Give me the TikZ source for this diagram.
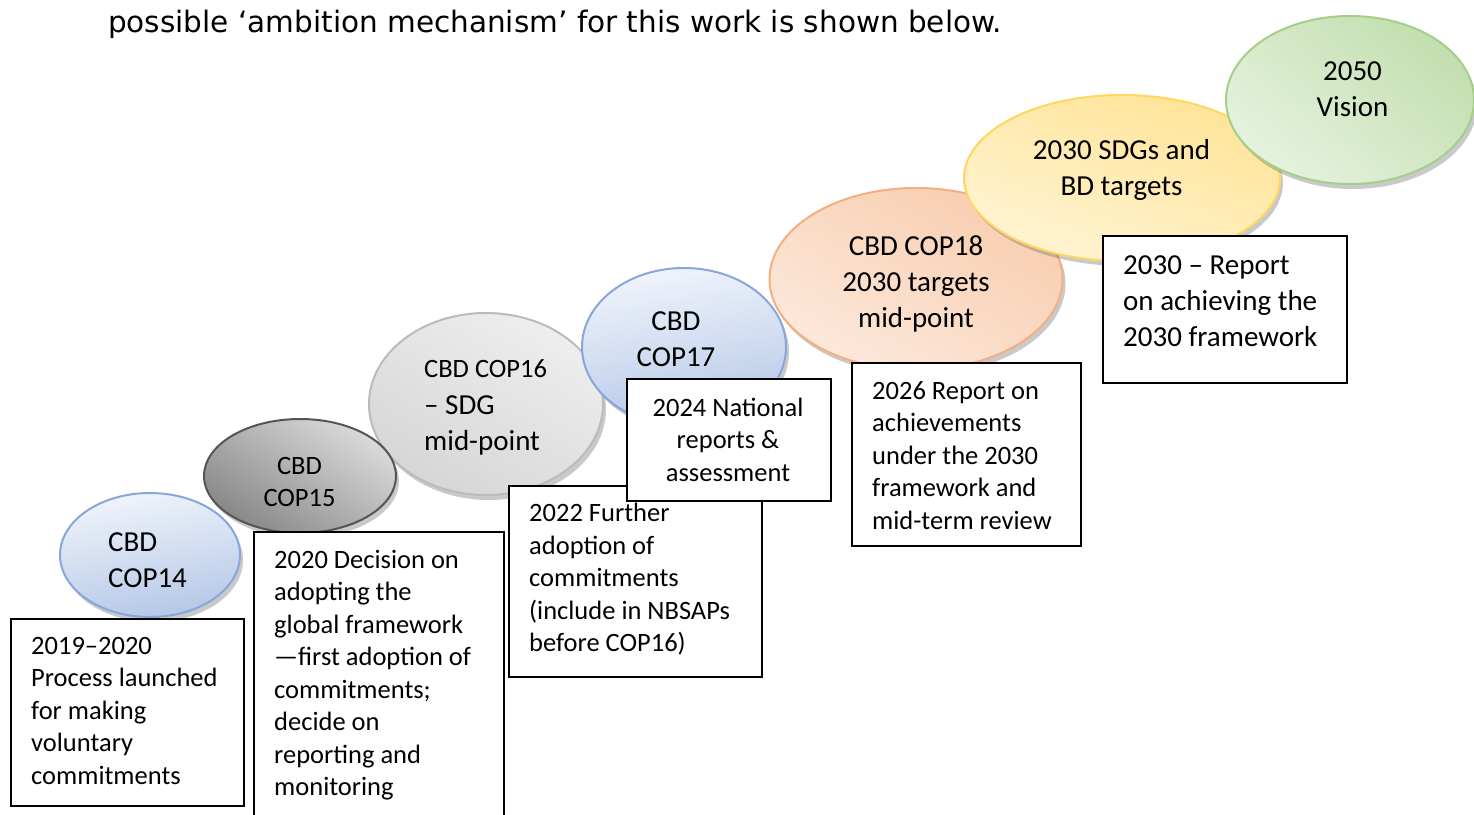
\documentclass[tikz,border=0pt]{standalone}
\usepackage{fontspec}
\setmainfont{Carlito}
\newfontfamily\verd{DejaVu Sans}
\usetikzlibrary{shapes.geometric,shadows}
\definecolor{bluerim}{HTML}{88A6DA}
\definecolor{bluetop}{HTML}{F0F4FB}
\definecolor{bluebot}{HTML}{B4C7E7}
\definecolor{dgrim}{HTML}{555555}
\definecolor{dgtop}{HTML}{DADADA}
\definecolor{dgbot}{HTML}{888888}
\definecolor{lgrim}{HTML}{BBBBBB}
\definecolor{lgtop}{HTML}{EEEEEE}
\definecolor{lgbot}{HTML}{D6D6D6}
\definecolor{orrim}{HTML}{F4AF80}
\definecolor{ortop}{HTML}{F8CDAF}
\definecolor{orbot}{HTML}{FCE8DB}
\definecolor{yerim}{HTML}{FFD760}
\definecolor{yetop}{HTML}{FFE397}
\definecolor{yebot}{HTML}{FFF4D3}
\definecolor{grrim}{HTML}{A5CF89}
\definecolor{grtop}{HTML}{C2DFB0}
\definecolor{grbot}{HTML}{E6F2DE}
\tikzset{
  bubble/.style={ellipse, inner sep=0pt, line width=2pt,
    drop shadow={shadow xshift=3pt, shadow yshift=-5pt, opacity=0.35, fill=black!60}},
  bluebub/.style={bubble, draw=bluerim, top color=bluetop, bottom color=bluebot, shading angle=10},
  bigfont/.style={font=\fontsize{29}{36}\selectfont},
  smallfont/.style={font=\fontsize{26.5}{32.5}\selectfont},
  btext/.style={bigfont, align=center, inner sep=0pt},
  boxframe/.style={draw=black, line width=1.8pt, fill=white, anchor=north west, inner sep=0pt},
  boxtext/.style={smallfont, align=left, anchor=north west, inner sep=0pt},
}
\begin{document}
\begin{tikzpicture}[x=1pt,y=-1pt]
\useasboundingbox (0,0) rectangle (1474,814);
\fill[white] (0,0) rectangle (1474,814);

% heading
\node[anchor=base west, inner sep=0pt, font=\verd\fontsize{29.5}{34}\selectfont] (head) at (108,32)
  {possible ‘ambition mechanism’ for this work is shown below.};

% ellipses
\node[bluebub, minimum width=180pt, minimum height=124pt] (e14) at (150,555) {};
\node[bubble, draw=lgrim, top color=lgtop, bottom color=lgbot, shading angle=-30,
      minimum width=234pt, minimum height=182pt] (e16) at (486,404) {};
\node[bubble, draw=dgrim, top color=dgtop, bottom color=dgbot, shading angle=-35,
      minimum width=192pt, minimum height=114pt] (e15) at (300,476) {};
\node[bluebub, minimum width=204pt, minimum height=158pt] (e17) at (684,347) {};
\node[bubble, draw=orrim, top color=ortop, bottom color=orbot, shading angle=-30,
      minimum width=293pt, minimum height=182pt] (e18) at (916,279) {};
\node[bubble, draw=yerim, top color=yetop, bottom color=yebot, shading angle=-20,
      minimum width=316pt, minimum height=166pt] (e30) at (1122,178) {};
\node[bubble, draw=grrim, top color=grtop, bottom color=grbot, shading angle=-40,
      minimum width=248pt, minimum height=168pt] (e50) at (1350,100) {};

% ellipse texts
\node[btext, align=left] (t14) at (147.5,560) {CBD\\COP14};
\node[btext, smallfont] (t15) at (299.5,482) {CBD\\COP15};
\node[btext, align=left, anchor=north west] (t16) at (424,359)
  {{\fontsize{26.5}{32.5}\selectfont CBD COP16}\\[1pt]– SDG\\mid-point};
\node[btext] (t17) at (676,339) {CBD\\COP17};
\node[btext] (t18) at (916,284) {CBD COP18\\2030 targets\\mid-point};
\node[btext] (t30) at (1121.5,170) {2030 SDGs and\\BD targets};
\node[btext] (t50) at (1352.5,89) {2050\\Vision};

% boxes
\node[boxframe, minimum width=233pt, minimum height=187pt] (bA) at (10,618) {};
\node[boxtext] (tA) at (31,637)
  {2019–2020\\Process launched\\for making\\voluntary\\commitments};

\node[boxframe, minimum width=250pt, minimum height=300pt] (bB) at (253,531) {};
\node[boxtext] (tB) at (274,550)
  {2020 Decision on\\adopting the\\global framework\\—first adoption of\\commitments;\\decide on\\reporting and\\monitoring};

\node[boxframe, minimum width=253pt, minimum height=191pt] (bC) at (508,485) {};
\node[boxtext] (tC) at (529,503)
  {2022 Further\\adoption of\\commitments\\(include in NBSAPs\\before COP16)};

\node[boxframe, minimum width=204pt, minimum height=122pt] (bD) at (626,378) {};
\node[boxtext, align=center, anchor=north] (tD) at (728,397.5)
  {2024 National\\reports \&\\assessment};

\node[boxframe, minimum width=229pt, minimum height=183pt] (bE) at (851,362) {};
\node[boxtext] (tE) at (872,381)
  {2026 Report on\\achievements\\under the 2030\\framework and\\mid-term review};

\node[boxframe, minimum width=244pt, minimum height=147pt] (bF) at (1102,235) {};
\node[boxtext, bigfont] (tF) at (1123,255.5)
  {2030 – Report\\on achieving the\\2030 framework};
\end{tikzpicture}
\end{document}
